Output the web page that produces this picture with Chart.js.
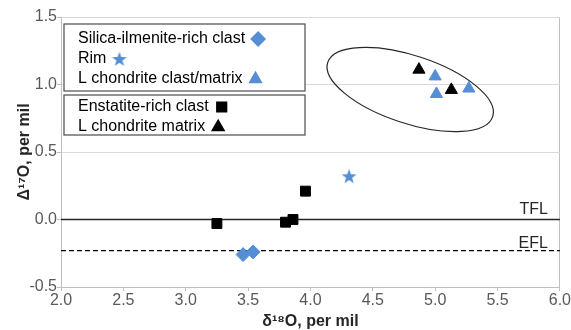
<!DOCTYPE html>
<html>
<head>
<meta charset="utf-8">
<script src="https://cdn.jsdelivr.net/npm/chart.js@4"></script>
<style>
  body { margin: 0; background: #fff; }
</style>
</head>
<body>
<canvas id="oxygenChart" width="571" height="330"></canvas>
<script>
// values
var silicaX = [3.46, 3.54];
var silicaY = [-0.26, -0.24];
var rimX = [4.31];
var rimY = [0.32];
var lClastX = [5.00, 5.01, 5.27];
var lClastY = [1.06, 0.93, 0.97];
var enstatiteX = [3.25, 3.80, 3.86, 3.96];
var enstatiteY = [-0.03, -0.02, 0.00, 0.21];
var lMatrixX = [4.87, 5.13];
var lMatrixY = [1.11, 0.96];

var xRange = [2.0, 6.0];
var tflY = 0.0;
var eflY = -0.23;
var lineLabels = ["TFL", "EFL"];

// ellipse drawn round the L chondrite points (centre in data units)
var ellipseCentre = { x: 4.80, y: 0.963 };

var blue = "#558ED5";
var fontFamily = "'Liberation Sans', Arial, sans-serif";

function toPoints(xs, ys)
{
    var pts = [];
    for (var i = 0; i < xs.length; i++)
    {
        pts.push({ x: xs[i], y: ys[i] });
    }
    return pts;
}

function makeStar(color)
{
    var c = document.createElement("canvas");
    c.width = 16;
    c.height = 16;
    var g = c.getContext("2d");
    g.fillStyle = color;
    g.beginPath();
    for (var i = 0; i < 10; i++)
    {
        var r = (i % 2 == 0) ? 7.8 : 3.2;
        var a = -Math.PI / 2 + i * Math.PI / 5;
        var px = 8 + r * Math.cos(a);
        var py = 8.6 + r * Math.sin(a);
        if (i == 0) g.moveTo(px, py); else g.lineTo(px, py);
    }
    g.closePath();
    g.fill();
    return c;
}
var starImg = makeStar(blue);

var legendGroups = [[0, 1, 2], [3, 4]];

var extrasPlugin = {
    id: "extras",
    afterDatasetsDraw: function (chart) {
        var ctx = chart.ctx;
        var xs = chart.scales.x;
        var ys = chart.scales.y;
        var area = chart.chartArea;

        // ellipse
        var cx = xs.getPixelForValue(ellipseCentre.x);
        var cy = ys.getPixelForValue(ellipseCentre.y);
        var pxUnit = xs.getPixelForValue(1) - xs.getPixelForValue(0);
        ctx.save();
        ctx.strokeStyle = "#262626";
        ctx.lineWidth = 1.2;
        ctx.beginPath();
        ctx.ellipse(cx, cy, 0.696 * pxUnit, 0.272 * pxUnit, 18.2 * Math.PI / 180, 0, 2 * Math.PI);
        ctx.stroke();

        // line labels
        ctx.fillStyle = "#262626";
        ctx.font = "16px " + fontFamily;
        ctx.textAlign = "right";
        ctx.textBaseline = "bottom";
        ctx.fillText(lineLabels[0], area.right - 12, ys.getPixelForValue(tflY) - 2);
        ctx.fillText(lineLabels[1], area.right - 12, ys.getPixelForValue(eflY) + 1);
        ctx.restore();
    },
    afterDraw: function (chart) {
        var ctx = chart.ctx;
        var boxes = [{ top: 24, height: 67 }, { top: 95, height: 40 }];
        var rowTop = [38, 106];
        ctx.save();
        ctx.font = "16px " + fontFamily;
        ctx.textBaseline = "middle";
        ctx.textAlign = "left";
        for (var g = 0; g < legendGroups.length; g++)
        {
            var b = boxes[g];
            ctx.fillStyle = "#fff";
            ctx.fillRect(64, b.top, 241, b.height);
            ctx.strokeStyle = "#595959";
            ctx.lineWidth = 1.3;
            ctx.strokeRect(64, b.top, 241, b.height);
            for (var k = 0; k < legendGroups[g].length; k++)
            {
                var ds = chart.data.datasets[legendGroups[g][k]];
                var y = rowTop[g] + k * 20;
                ctx.fillStyle = "#000";
                ctx.fillText(ds.label, 78, y + 1);
                var w = ctx.measureText(ds.label).width;
                ctx.fillStyle = ds.backgroundColor;
                ctx.strokeStyle = ds.borderColor;
                Chart.helpers.drawPoint(ctx, {
                    pointStyle: ds.pointStyle,
                    radius: ds.pointRadius,
                    rotation: 0,
                    borderWidth: 1
                }, 78 + w + 6 + ds.pointRadius, y + 1);
            }
        }
        ctx.restore();
    }
};

var ctx = document.getElementById("oxygenChart");
var oxygenChart = new Chart(ctx, {
    type: "scatter",
    data: {
        datasets: [
            {
                label: "Silica-ilmenite-rich clast",
                data: toPoints(silicaX, silicaY),
                pointStyle: "rectRot",
                pointRadius: 7,
                backgroundColor: blue,
                borderColor: blue,
                borderWidth: 1
            },
            {
                label: "Rim",
                data: toPoints(rimX, rimY),
                pointStyle: starImg,
                pointRadius: 7,
                backgroundColor: blue,
                borderColor: blue
            },
            {
                label: "L chondrite clast/matrix",
                data: toPoints(lClastX, lClastY),
                pointStyle: "triangle",
                pointRadius: 7,
                backgroundColor: blue,
                borderColor: blue,
                borderWidth: 1
            },
            {
                label: "Enstatite-rich clast",
                data: toPoints(enstatiteX, enstatiteY),
                pointStyle: "rect",
                pointRadius: 7,
                backgroundColor: "#000",
                borderColor: "#000",
                borderWidth: 1
            },
            {
                label: "L chondrite matrix",
                data: toPoints(lMatrixX, lMatrixY),
                pointStyle: "triangle",
                pointRadius: 7,
                backgroundColor: "#000",
                borderColor: "#000",
                borderWidth: 1
            },
            {
                label: "TFL",
                type: "line",
                data: toPoints(xRange, [tflY, tflY]),
                borderColor: "#262626",
                borderWidth: 1.6,
                pointRadius: 0,
                fill: false
            },
            {
                label: "EFL",
                type: "line",
                data: toPoints(xRange, [eflY, eflY]),
                borderColor: "#000",
                borderWidth: 1.3,
                borderDash: [5, 3],
                pointRadius: 0,
                fill: false
            }
        ]
    },
    options: {
        responsive: false,
        animation: false,
        layout: { padding: { top: 17, right: 11, left: 0, bottom: 0 } },
        plugins: {
            legend: { display: false },
            tooltip: { enabled: false }
        },
        scales: {
            x: {
                type: "linear",
                min: 2,
                max: 6,
                afterFit: function (scale) { scale.height = 43; },
                ticks: {
                    stepSize: 0.5,
                    padding: 0,
                    color: "#595959",
                    font: { family: fontFamily, size: 16 },
                    callback: function (v) { return v.toFixed(1); }
                },
                grid: {
                    color: function (c) { return (c.tick && c.tick.value == 6) ? "#bfbfbf" : "rgba(0,0,0,0)"; },
                    tickColor: "#bfbfbf",
                    tickLength: 4
                },
                border: { color: "#bfbfbf" },
                title: {
                    display: true,
                    text: "δ\u00b9\u2078O, per mil",
                    color: "#262626",
                    padding: { top: 0, bottom: 0 },
                    font: { family: fontFamily, size: 16, weight: "bold", lineHeight: 1 }
                }
            },
            y: {
                min: -0.5,
                max: 1.5,
                afterFit: function (scale) { scale.width = 61; },
                ticks: {
                    stepSize: 0.5,
                    padding: 0,
                    color: "#595959",
                    font: { family: fontFamily, size: 16 },
                    callback: function (v) { return v.toFixed(1); }
                },
                grid: {
                    color: "#d9d9d9",
                    tickColor: "#bfbfbf",
                    tickLength: 4
                },
                border: { color: "#bfbfbf" },
                title: {
                    display: true,
                    text: "Δ\u00b9\u2077O, per mil",
                    color: "#262626",
                    padding: { top: 17, bottom: 0 },
                    font: { family: fontFamily, size: 16, weight: "bold", lineHeight: 1 }
                }
            }
        }
    },
    plugins: [extrasPlugin]
});
</script>
</body>
</html>
